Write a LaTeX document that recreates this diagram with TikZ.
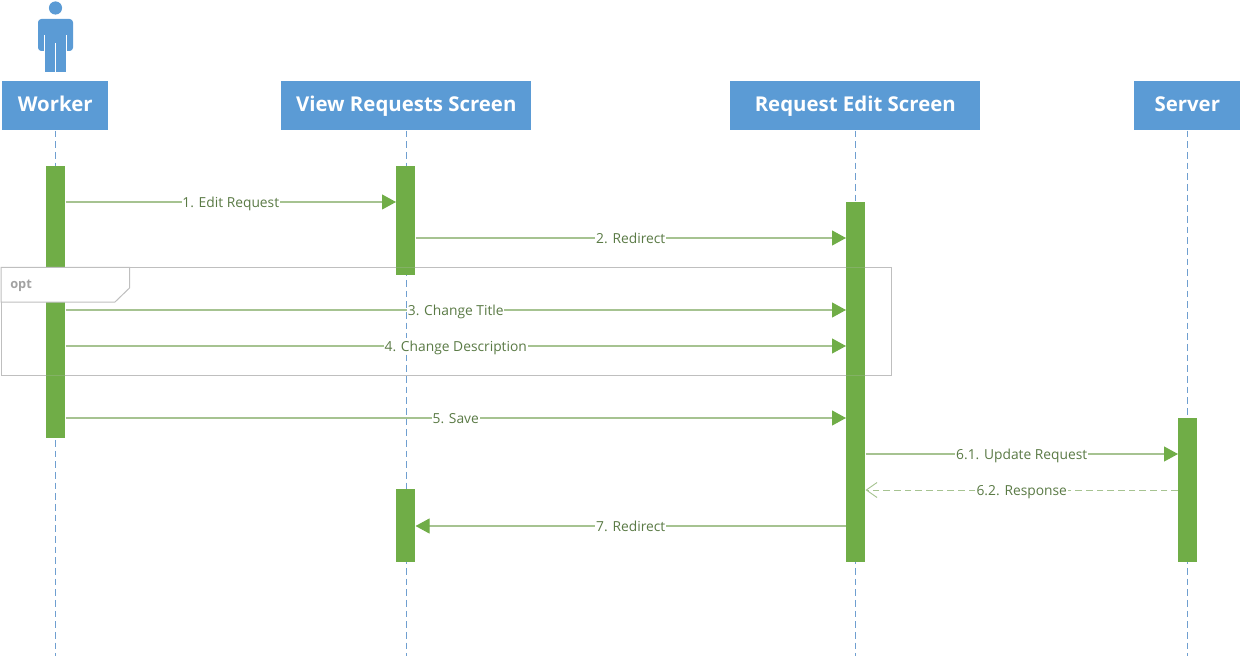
\documentclass[tikz,border=0pt]{standalone}
\usepackage{fontspec}
\setmainfont{Open Sans}
\usetikzlibrary{arrows.meta}
\definecolor{hdr}{HTML}{5B9BD5}
\definecolor{bar}{HTML}{70AD47}
\definecolor{msgline}{HTML}{A6C391}
\definecolor{msgtext}{HTML}{5A7A45}
\definecolor{life}{HTML}{6F9FD0}
\definecolor{frm}{HTML}{BFBFBF}
\tikzset{
  x=0.75pt,y=-0.75pt,
  header/.style={draw=none,fill=hdr,text=white,inner sep=0,anchor=north west,text height=12pt,text depth=3pt,minimum height=36.75pt,font=\fontsize{15.3}{19}\selectfont\bfseries},
  lifeline/.style={draw=life,line width=0.75pt,dash pattern=on 5pt off 3pt},
  activation/.style={draw=none,fill=bar,inner sep=0,anchor=north west,minimum width=14.25pt},
  msg/.style={draw=msgline,line width=0.8pt,-{Triangle[length=10.5pt,width=11.25pt,color=bar,fill=bar]}},
  reply/.style={draw=msgline,line width=0.7pt,dash pattern=on 5pt off 3pt,-{Straight Barb[length=8pt,width=11.25pt,color=msgline]}},
  msglabel/.style={fill=white,inner xsep=0.6pt,inner ysep=0pt,text=msgtext,text height=10.5pt,text depth=2.2pt,font=\fontsize{10.35}{12}\selectfont,midway},
  framestroke/.style={draw=frm,line width=0.75pt},
}
\begin{document}
\begin{tikzpicture}
\useasboundingbox (0,0) rectangle (1243,656);
% actor
\fill[hdr] (55.5,8) circle[radius=6.6];
\fill[hdr,rounded corners=2.5pt] (38,51) -- (38,19) -- (73,19) -- (73,51) -- cycle;
\fill[hdr] (45,45) rectangle (66,72);
\draw[white,line width=0.6pt] (55.5,43) -- (55.5,72.5) (44.6,35) -- (44.6,52) (66.4,35) -- (66.4,52);
% header boxes
\node[header,minimum width=79.5pt] (worker) at (2,81) {Worker};
\node[header,minimum width=187.5pt] (view) at (281,81) {View Requests Screen};
\node[header,minimum width=187.5pt] (edit) at (730,81) {Request Edit Screen};
\node[header,minimum width=79.5pt] (server) at (1134,81) {Server};
% lifelines
\coordinate (bottom) at (0,656);
\draw[lifeline] (worker.south) -- (worker.south |- bottom);
\draw[lifeline] (view.south) -- (view.south |- bottom);
\draw[lifeline] (edit.south) -- (edit.south |- bottom);
\draw[lifeline] (server.south) -- (server.south |- bottom);
% opt frame, under the bars
\draw[framestroke] (1,267.3) rectangle (891,375);
% activation bars
\node[activation,minimum height=204pt] (aw) at (46,166) {};
\node[activation,minimum height=81.75pt] (av1) at (396,166) {};
\node[activation,minimum height=54.75pt] (av2) at (396,489) {};
\node[activation,minimum height=270pt] (ae) at (846,202) {};
\node[activation,minimum height=108pt] (as) at (1178,418) {};
% frame shows faintly through the bars
\draw[framestroke,opacity=0.25] (1,267.3) rectangle (891,375);
% opt tab
\fill[white] (1,267.3) -- (129.5,267.3) -- (129.5,288) -- (115,302) -- (1,302) -- cycle;
\draw[framestroke] (1,267.3) -- (129.5,267.3) -- (129.5,288) -- (115,302) -- (1,302) -- cycle;
\node[anchor=west,inner sep=0,text=frm!85!black,font=\fontsize{9.6}{11}\selectfont\bfseries] (optlabel) at (10,286) {opt};
% message levels
\coordinate (m1) at (0,202);
\coordinate (m2) at (0,238);
\coordinate (m3) at (0,310);
\coordinate (m4) at (0,346);
\coordinate (m5) at (0,418);
\coordinate (m6) at (0,454);
\coordinate (m7) at (0,490);
\coordinate (m8) at (0,526);
% messages
\draw[msg] (aw.east |- m1) -- node[msglabel] (l1) {1. Edit Request} (av1.west |- m1);
\draw[msg] (av1.east |- m2) -- node[msglabel] (l2) {2. Redirect} (ae.west |- m2);
\draw[msg] (aw.east |- m3) -- node[msglabel] (l3) {3. Change Title} (ae.west |- m3);
\draw[msg] (aw.east |- m4) -- node[msglabel] (l4) {4. Change Description} (ae.west |- m4);
\draw[msg] (aw.east |- m5) -- node[msglabel] (l5) {5. Save} (ae.west |- m5);
\draw[msg] (ae.east |- m6) -- node[msglabel] (l6) {6.1. Update Request} (as.west |- m6);
\draw[reply] (as.west |- m7) -- node[msglabel] (l7) {6.2. Response} (ae.east |- m7);
\draw[msg] (ae.west |- m8) -- node[msglabel] (l8) {7. Redirect} (av2.east |- m8);
\end{tikzpicture}
\end{document}
